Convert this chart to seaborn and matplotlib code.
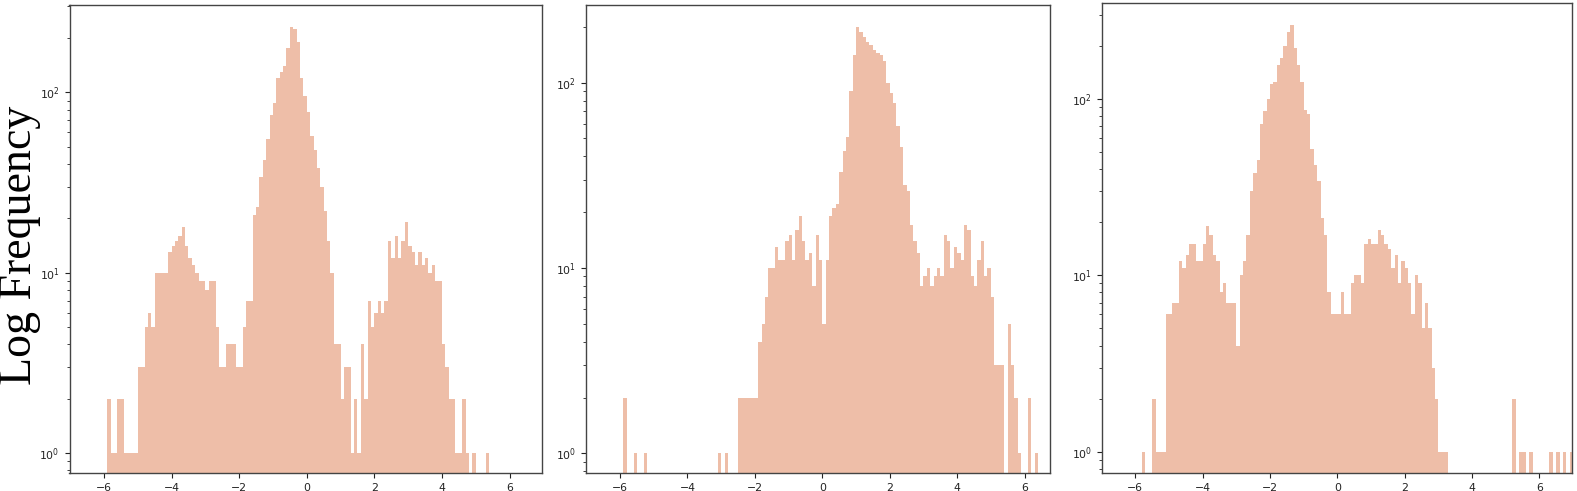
import numpy as np
import pandas as pd
import matplotlib
matplotlib.use("Agg")
import matplotlib.pyplot as plt
import seaborn as sns

# ---------------- data (bar heights) ----------------
BIN_WIDTH = 0.1

P1_START = -5.9
P1_COUNTS = [
    2, 1, 1, 2, 2, 1, 1, 1, 1, 3,          # -5.9 .. -5.0
    3, 5, 6, 5, 10, 10, 10, 10, 13, 14,    # -4.9 .. -4.0
    15, 16, 18, 14, 12, 11, 10, 9, 9, 8,   # -3.9 .. -3.0
    9, 9, 5, 3, 3, 4, 4, 4, 3, 3,          # -2.9 .. -2.0
    5, 7, 7, 21, 23, 34, 42, 55, 75, 87,   # -1.9 .. -1.0
    120, 130, 140, 175, 230, 225, 190, 120, 95,  # -0.9 .. -0.1
    78, 57, 48, 38, 30, 22, 15, 10, 4, 4,  # 0.0 .. 0.9
    2, 3, 3, 1, 2, 1, 4, 2, 7, 5,          # 1.0 .. 1.9
    6, 7, 6, 7, 15, 12, 16, 12, 15, 19,    # 2.0 .. 2.9
    14, 13, 11, 13, 11, 12, 10, 11, 9, 9,  # 3.0 .. 3.9
    4, 3, 2, 2, 1, 1, 2, 1, 0, 1,          # 4.0 .. 4.9
    0, 0, 0, 1, 0,                         # 5.0 .. 5.4
]

P2_START = -5.9
P2_COUNTS = [
    2, 0, 0, 1, 0, 0, 1, 0, 0, 0,          # -5.9 .. -5.0
    0, 0, 0, 0, 0, 0, 0, 0, 0, 0,          # -4.9 .. -4.0
    0, 0, 0, 0, 0, 0, 0, 0, 1, 0,          # -3.9 .. -3.0
    1, 0, 0, 0, 2, 2, 2, 2, 2, 2,          # -2.9 .. -2.0
    4, 5, 7, 10, 10, 13, 11, 11, 14, 15,   # -1.9 .. -1.0
    11, 16, 19, 14, 11, 12, 8, 15, 11,     # -0.9 .. -0.1
    5, 11, 19, 21, 22, 33, 43, 51, 90, 140,     # 0.0 .. 0.9
    200, 188, 175, 165, 160, 150, 145, 140, 130, 100,  # 1.0 .. 1.9
    88, 78, 58, 45, 28, 26, 17, 14, 12, 8,  # 2.0 .. 2.9
    9, 10, 8, 9, 10, 9, 15, 14, 10, 13,     # 3.0 .. 3.9
    12, 11, 17, 16, 9, 8, 11, 14, 9, 10,    # 4.0 .. 4.9
    7, 3, 3, 3, 0, 5, 3, 2, 1, 0,           # 5.0 .. 5.9
    0, 2, 0, 1,                             # 6.0 .. 6.3
]

P3_START = -5.8
P3_COUNTS = [
    1, 0, 0, 2, 1, 1, 1, 6, 6,              # -5.8 .. -5.0
    7, 7, 12, 11, 13, 15, 15, 12, 12, 15,   # -4.9 .. -4.0
    19, 17, 13, 12, 8, 9, 7, 7, 7, 4,       # -3.9 .. -3.0
    10, 12, 17, 30, 38, 45, 72, 85, 100, 122,    # -2.9 .. -2.0
    125, 155, 170, 200, 240, 262, 195, 155, 125, 86,  # -1.9 .. -1.0
    82, 52, 42, 34, 21, 17, 8, 6, 6,        # -0.9 .. -0.1
    6, 8, 6, 6, 9, 10, 10, 9, 15, 16,       # 0.0 .. 0.9
    15, 15, 18, 17, 15, 14, 11, 13, 9, 12,  # 1.0 .. 1.9
    11, 9, 6, 10, 9, 5, 7, 5, 3, 2,         # 2.0 .. 2.9
    1, 1, 1, 0, 0, 0, 0, 0, 0, 0,           # 3.0 .. 3.9
    0, 0, 0, 0, 0, 0, 0, 0, 0, 0,           # 4.0 .. 4.9
    0, 0, 2, 0, 1, 1, 0, 1, 0, 0,           # 5.0 .. 5.9
    0, 0, 0, 1, 0, 1, 0, 1, 0, 1,           # 6.0 .. 6.9
]

X_TICKS = [-6, -4, -2, 0, 2, 4, 6]
Y_LABEL = "Log Frequency"

# ---------------- layout ----------------
W, H = 1577, 491
COLOR = "#EEBEA8"
SPINE = "#444444"

panels = [
    # start, counts, (left, right, top, bottom) px, xlim, ylim
    (P1_START, P1_COUNTS, (69.5, 542.0, 4.7, 473.4), (-7.02, 6.96), (0.77, 306)),
    (P2_START, P2_COUNTS, (586.0, 1049.5, 5.0, 473.4), (-7.01, 6.74), (0.78, 262)),
    (P3_START, P3_COUNTS, (1101.7, 1572.0, 3.4, 472.8), (-7.0, 6.97), (0.76, 347)),
]

fig = plt.figure(figsize=(W / 100, H / 100), dpi=100)

for start, counts, (l, r, t, b), xlim, ylim in panels:
    n = len(counts)
    edges = [float(e) for e in (start + BIN_WIDTH * np.arange(n + 1))]
    df = pd.DataFrame({
        "value": start + BIN_WIDTH * (np.arange(n) + 0.5),
        "count": np.asarray(counts, dtype=float),
    })
    ax = fig.add_axes([l / W, 1 - b / H, (r - l) / W, (b - t) / H])
    sns.histplot(data=df, x="value", weights="count", bins=edges, ax=ax,
                 color=COLOR, alpha=1.0, linewidth=0, element="bars")
    ax.set_yscale("log")
    ax.set_xlim(*xlim)
    ax.set_ylim(*ylim)
    ax.set_xticks(X_TICKS)
    ax.set_xlabel("")
    ax.set_ylabel("")
    ax.tick_params(axis="both", which="both", labelsize=7.8, colors="#222222")
    for s in ax.spines.values():
        s.set_color(SPINE)
        s.set_linewidth(1.0)

fig.text(20 / W, 1 - 245.5 / H, Y_LABEL, rotation=90, fontsize=33,
         family=["Liberation Serif", "DejaVu Serif"], ha="center", va="center")

fig.savefig("out.png", dpi=100)
